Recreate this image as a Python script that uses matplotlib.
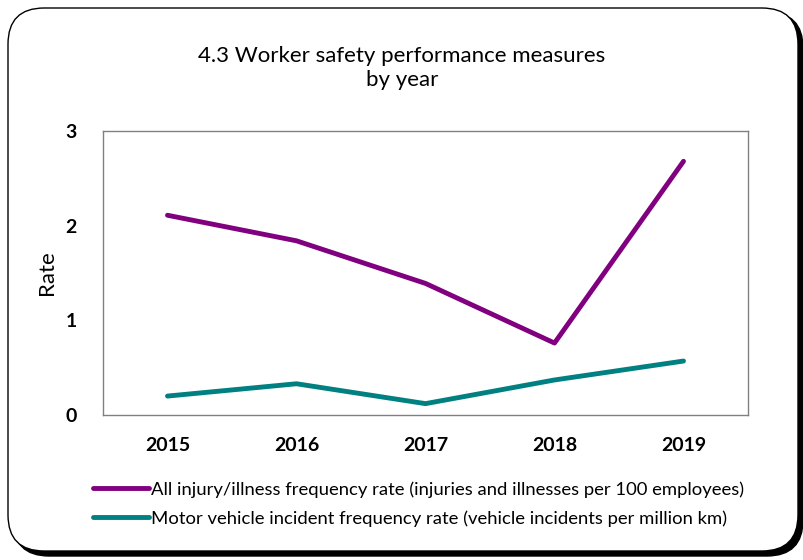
import matplotlib
matplotlib.use("Agg")
import matplotlib.pyplot as plt
from matplotlib.patches import FancyBboxPatch

years = ["2015", "2016", "2017", "2018", "2019"]
injury_rate = [2.11, 1.84, 1.39, 0.76, 2.68]
vehicle_rate = [0.20, 0.33, 0.12, 0.37, 0.57]
labels = ["All injury/illness frequency rate (injuries and illnesses per 100 employees)",
          "Motor vehicle incident frequency rate (vehicle incidents per million km)"]

plt.rcParams['font.family'] = ['Lato', 'DejaVu Sans']

fig = plt.figure(figsize=(8.04, 5.6), dpi=100)
W, H = 804, 560

# rounded frame with shadow behind everything
shadow = FancyBboxPatch((13 / W, 4 / H), 790 / W, 544 / H,
                        boxstyle="round,pad=0,rounding_size=0.045",
                        transform=fig.transFigure, facecolor="black",
                        edgecolor="black", mutation_aspect=W / H, zorder=-2)
frame = FancyBboxPatch((8 / W, 9 / H), 790 / W, 543 / H,
                       boxstyle="round,pad=0,rounding_size=0.045",
                       transform=fig.transFigure, facecolor="white",
                       edgecolor="black", linewidth=1, mutation_aspect=W / H, zorder=-1)
fig.patches.extend([shadow, frame])

ax = fig.add_axes([103 / W, 1 - 415 / H, 645 / W, 284 / H])
ax.set_zorder(1)
ax.patch.set_alpha(0)
x = range(len(years))
l1, = ax.plot(x, injury_rate, color="#800080", linewidth=3.5, solid_capstyle="round")
l2, = ax.plot(x, vehicle_rate, color="#008080", linewidth=3.5, solid_capstyle="round")

ax.set_xlim(-0.5, 4.5)
ax.set_ylim(0, 3)
ax.set_yticks([0, 1, 2, 3])
ax.set_xticks(list(x))
ax.set_xticklabels(years, fontsize=14, fontweight="bold")
ax.tick_params(axis="y", labelsize=14, length=0, pad=19)
ax.tick_params(axis="x", length=0, pad=16)
for lab in ax.get_yticklabels():
    lab.set_fontweight("bold")
for s in ax.spines.values():
    s.set_color("#808080")
    s.set_linewidth(1)
ax.set_ylabel("Rate", fontsize=16, labelpad=6)

fig.text(0.5, 1 - 68 / H, "4.3 Worker safety performance measures\nby year",
         ha="center", va="center", fontsize=16, linespacing=1.25)

fig.legend([l1, l2], labels, loc="upper left", bbox_to_anchor=(86 / W, 1 - 474 / H),
           frameon=False, fontsize=13.3, handlelength=3.0, handletextpad=0.1,
           labelspacing=0.65, borderaxespad=0)

fig.savefig("out.png", dpi=100)
